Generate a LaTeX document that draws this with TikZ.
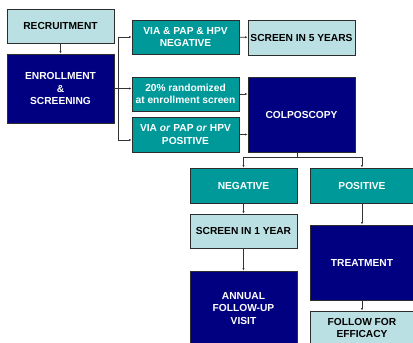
\documentclass[tikz,border=0pt]{standalone}
\usepackage{fontspec}
\setmainfont{Liberation Sans}
\usetikzlibrary{arrows.meta}
\definecolor{navybox}{RGB}{0,0,128}
\definecolor{tealbox}{RGB}{0,153,153}
\definecolor{palebox}{RGB}{187,224,227}
\definecolor{rimgray}{RGB}{45,45,45}
\newcommand{\txt}{\fontsize{10.2}{12.5}\selectfont\bfseries}

\begin{document}
\begin{tikzpicture}[x=1pt,y=-1pt,
  box/.style={draw=rimgray, line width=0.9pt, align=center, inner sep=0pt, font=\txt},
  pale/.style={box, fill=palebox, text=black},
  teal/.style={box, fill=tealbox, text=white},
  navy/.style={box, fill=navybox, text=white},
  link/.style={draw=black!80, line width=0.6pt},
  arr/.style={link, -{Latex[length=2.5pt,width=2.2pt]}}]
\useasboundingbox (0,0) rectangle (413,343);
% left column
\node[pale, minimum width=107, minimum height=34] (recruit) at (60.5,26) {RECRUITMENT};
\node[navy, minimum width=107, minimum height=69] (enroll) at (60.5,88.5) {ENROLLMENT\\\&\\SCREENING};
% screen results
\node[teal, minimum width=107, minimum height=34] (vianeg) at (185.5,37) {VIA \& PAP \& HPV\\NEGATIVE};
\node[teal, minimum width=107, minimum height=34] (random) at (185.5,94) {20\% randomized\\at enrollment screen};
\node[teal, minimum width=107, minimum height=35] (viapos) at (185.5,134.5) {VIA \textit{or} PAP \textit{or} HPV\\POSITIVE};
\node[pale, minimum width=107, minimum height=35] (screenfive) at (301.5,37.5) {SCREEN IN 5 YEARS};
\node[navy, minimum width=107, minimum height=75] (colpo) at (301.5,114.5) {COLPOSCOPY};
% colposcopy results
\node[teal, minimum width=107, minimum height=35] (neg) at (243.5,185.5) {NEGATIVE};
\node[teal, minimum width=104, minimum height=35] (pos) at (362,185.5) {POSITIVE};
\node[pale, minimum width=107, minimum height=34] (screenone) at (243.5,231) {SCREEN IN 1 YEAR};
\node[navy, minimum width=107, minimum height=75] (annual) at (243.5,308.5) {ANNUAL\\FOLLOW-UP\\VISIT};
\node[navy, minimum width=104, minimum height=75] (treat) at (362,262.5) {TREATMENT};
\node[pale, minimum width=104, minimum height=34] (efficacy) at (362,328) {FOLLOW FOR\\EFFICACY};

\coordinate (bus) at (118,89);
\coordinate (bustail) at (118,140);
\coordinate (split) at (297,157);

\draw[arr] (recruit) -- (enroll);
\draw[arr] (enroll.east) -- (enroll.east -| random.west);
\draw[link] (bus |- vianeg) -- (bustail);
\draw[arr] (bus |- vianeg) -- (vianeg.west);
\draw[arr] (bustail) -- (bustail -| viapos.west);
\draw[arr] (vianeg) -- (screenfive);
\draw[arr] (random.east) -- (random.east -| colpo.west);
\draw[arr] (viapos.east) -- (viapos.east -| colpo.west);
\draw[link] (colpo.south -| split) -- (split);
\draw[link] (split -| neg) -- (split -| pos);
\draw[arr] (split -| neg) -- (neg.north);
\draw[arr] (split -| pos) -- (pos.north);
\draw[arr] (neg) -- (screenone);
\draw[arr] (screenone) -- (annual);
\draw[arr] (pos) -- (treat);
\draw[arr] (treat) -- (efficacy);
\end{tikzpicture}
\end{document}
